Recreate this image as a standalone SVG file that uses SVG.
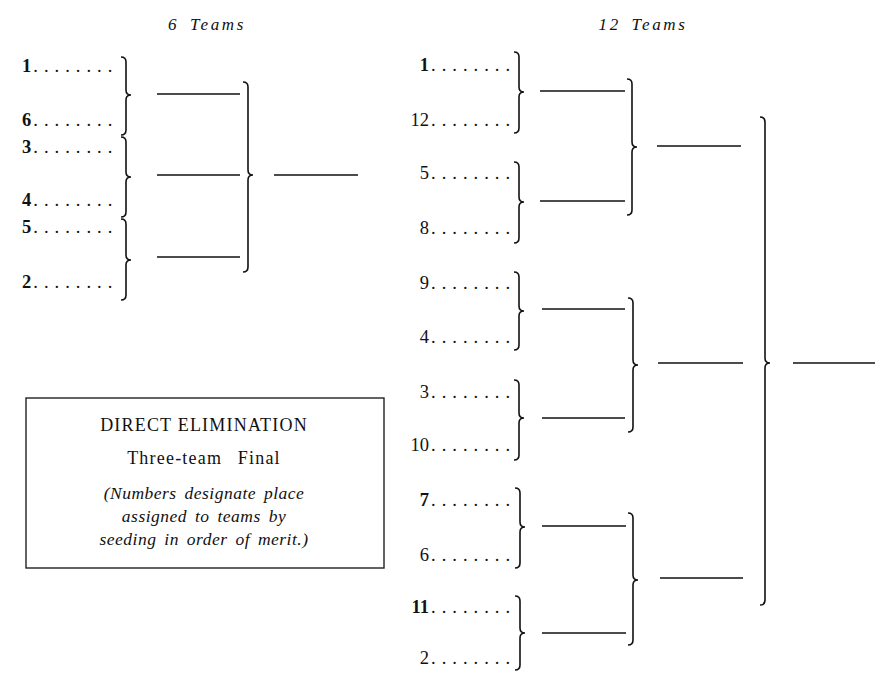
<svg xmlns="http://www.w3.org/2000/svg" width="886" height="674" viewBox="0 0 886 674">
<style>
text{font-family:"Liberation Serif","Times New Roman",serif;fill:#111}
.t{font-style:italic;font-size:17px;letter-spacing:2.6px;word-spacing:4px;text-anchor:middle}
.lbl{font-size:18.5px}
.b{font-weight:bold}
.d{letter-spacing:6px;font-weight:normal}
.r{text-anchor:end}
.ln{stroke:#111;stroke-width:1.4;fill:none}
.br{stroke:#111;stroke-width:1.6;fill:none}
.bx{stroke:#222;stroke-width:1.4;fill:#fff}
.h1{font-size:18px;letter-spacing:1.2px;text-anchor:middle}
.h2{font-size:18px;letter-spacing:1.2px;word-spacing:10px;text-anchor:middle}
.it{font-size:17.5px;font-style:italic;letter-spacing:0.5px;word-spacing:3px;text-anchor:middle}
</style>
<rect width="886" height="674" fill="#fff"/>

<g id="six-teams">
<text class="t" x="207" y="30">6 Teams</text>
<g id="six-labels" class="lbl">
<text class="b" x="22" y="72">1<tspan class="d" dx="2">........</tspan></text>
<text class="b" x="22" y="126">6<tspan class="d" dx="2">........</tspan></text>
<text class="b" x="22" y="153">3<tspan class="d" dx="2">........</tspan></text>
<text class="b" x="22" y="206">4<tspan class="d" dx="2">........</tspan></text>
<text class="b" x="22" y="233">5<tspan class="d" dx="2">........</tspan></text>
<text class="b" x="22" y="288">2<tspan class="d" dx="2">........</tspan></text>
</g>
</g>

<g id="twelve-teams">
<text class="t" x="643" y="30">12 Teams</text>
<g id="twelve-labels" class="lbl">
<text class="r" x="516" y="71"><tspan class="b">1</tspan><tspan class="d" dx="2">........</tspan></text>
<text class="r" x="516" y="126">12<tspan class="d" dx="2">........</tspan></text>
<text class="r" x="516" y="179">5<tspan class="d" dx="2">........</tspan></text>
<text class="r" x="516" y="234">8<tspan class="d" dx="2">........</tspan></text>
<text class="r" x="516" y="289">9<tspan class="d" dx="2">........</tspan></text>
<text class="r" x="516" y="343">4<tspan class="d" dx="2">........</tspan></text>
<text class="r" x="516" y="398">3<tspan class="d" dx="2">........</tspan></text>
<text class="r" x="516" y="451">10<tspan class="d" dx="2">........</tspan></text>
<text class="r" x="516" y="506"><tspan class="b">7</tspan><tspan class="d" dx="2">........</tspan></text>
<text class="r" x="516" y="561">6<tspan class="d" dx="2">........</tspan></text>
<text class="r" x="516" y="613"><tspan class="b">11</tspan><tspan class="d" dx="2">........</tspan></text>
<text class="r" x="516" y="664">2<tspan class="d" dx="2">........</tspan></text>
</g>
</g>

<g id="connectors">
<path class="br" d="M121 57 Q126 57 126 62 L126 90 Q126 95 131 95 Q126 95 126 100 L126 130 Q126 135 121 135"/>
<path class="br" d="M121 137 Q126 137 126 142 L126 172 Q126 177 131 177 Q126 177 126 182 L126 212 Q126 217 121 217"/>
<path class="br" d="M121 219 Q126 219 126 224 L126 255 Q126 260 131 260 Q126 260 126 265 L126 295 Q126 300 121 300"/>
<line class="ln" x1="157" y1="94" x2="240" y2="94"/>
<line class="ln" x1="157" y1="175" x2="240" y2="175"/>
<line class="ln" x1="157" y1="257" x2="240" y2="257"/>
<path class="br" d="M243 82 Q248 82 248 87 L248 170 Q248 175 253 175 Q248 175 248 180 L248 267 Q248 272 243 272"/>
<line class="ln" x1="274" y1="175" x2="358" y2="175"/>

<path class="br" d="M514 52 Q519 52 519 57 L519 87 Q519 92 524 92 Q519 92 519 97 L519 128 Q519 133 514 133"/>
<path class="br" d="M514 162 Q519 162 519 167 L519 197 Q519 202 524 202 Q519 202 519 207 L519 238 Q519 243 514 243"/>
<line class="ln" x1="540" y1="91" x2="625" y2="91"/>
<line class="ln" x1="540" y1="201" x2="625" y2="201"/>
<path class="br" d="M627 79 Q632 79 632 84 L632 142 Q632 147 637 147 Q632 147 632 152 L632 210 Q632 215 627 215"/>
<line class="ln" x1="657" y1="146" x2="741" y2="146"/>

<path class="br" d="M514 272 Q519 272 519 277 L519 306 Q519 311 524 311 Q519 311 519 316 L519 345 Q519 350 514 350"/>
<path class="br" d="M514 380 Q519 380 519 385 L519 413 Q519 418 524 418 Q519 418 519 423 L519 455 Q519 460 514 460"/>
<line class="ln" x1="542" y1="309" x2="625" y2="309"/>
<line class="ln" x1="542" y1="418" x2="625" y2="418"/>
<path class="br" d="M628 298 Q633 298 633 303 L633 360 Q633 365 638 365 Q633 365 633 370 L633 427 Q633 432 628 432"/>
<line class="ln" x1="658" y1="363" x2="743" y2="363"/>

<path class="br" d="M515 488 Q520 488 520 493 L520 522 Q520 527 525 527 Q520 527 520 532 L520 563 Q520 568 515 568"/>
<path class="br" d="M515 596 Q520 596 520 601 L520 628 Q520 633 525 633 Q520 633 520 638 L520 665 Q520 670 515 670"/>
<line class="ln" x1="542" y1="526" x2="626" y2="526"/>
<line class="ln" x1="542" y1="633" x2="626" y2="633"/>
<path class="br" d="M628 513 Q633 513 633 518 L633 575 Q633 580 638 580 Q633 580 633 585 L633 640 Q633 645 628 645"/>
<line class="ln" x1="660" y1="578" x2="743" y2="578"/>

<path class="br" d="M760 117 Q765 117 765 122 L765 358 Q765 363 770 363 Q765 363 765 368 L765 600 Q765 605 760 605"/>
<line class="ln" x1="793" y1="363" x2="875" y2="363"/>
</g>

<g id="legend">
<rect class="bx" x="26" y="398" width="358" height="170"/>
<text class="h1" x="204" y="431">DIRECT ELIMINATION</text>
<text class="h2" x="204" y="464">Three-team Final</text>
<text class="it" x="204" y="499">(Numbers designate place</text>
<text class="it" x="204" y="522">assigned to teams by</text>
<text class="it" x="204" y="545">seeding in order of merit.)</text>
</g>
</svg>
